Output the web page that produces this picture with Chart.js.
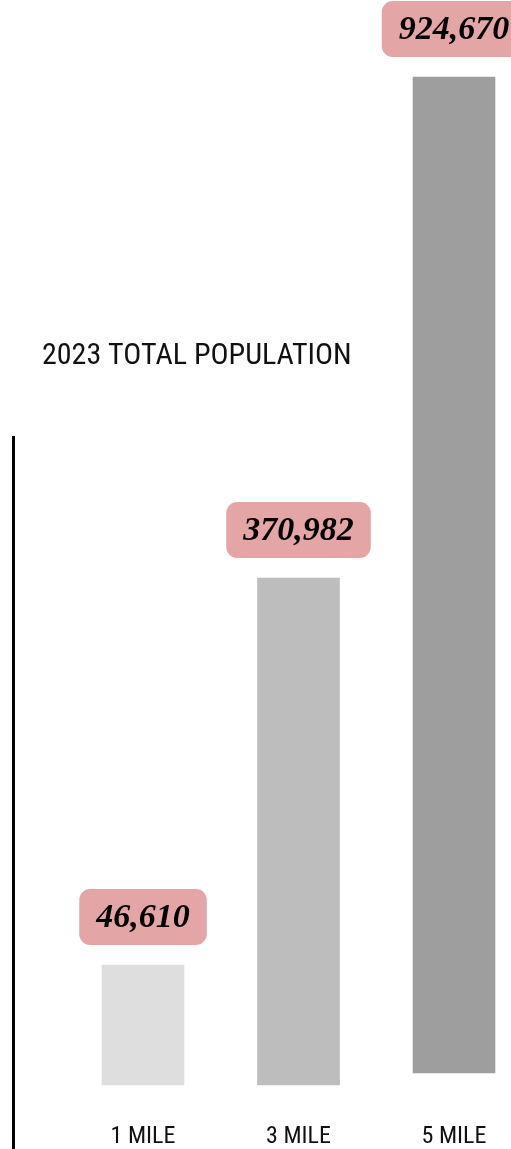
<!DOCTYPE html>
<html lang="en">
<head>
  <meta charset="UTF-8" />
  <title>2023 Total Population</title>
  <script src="https://cdn.jsdelivr.net/npm/chart.js"></script>
  <style>
    * {
      box-sizing: border-box;
    }

    html, body {
      margin: 0;
      padding: 0;
      background: #ffffff;
      overflow: hidden;
    }

    canvas {
      display: block;
    }
  </style>
</head>
<body>

  <canvas id="popChart" width="511" height="1149"></canvas>

  <script>
    // Radius rings
    const categories = ['1 MILE', '3 MILE', '5 MILE'];

    // Population shown in the pink tags
    const population = [46610, 370982, 924670];

    // Bar extents as drawn in the picture (display units, not to scale with population)
    const barBase = [0, 0, 12];
    const barTop = [120, 507, 1008];

    const barColors = ['#dedede', '#bdbdbd', '#9e9e9e'];

    const chartTitle = '2023 TOTAL POPULATION';

    const narrowFont = '"Liberation Sans Narrow", "Roboto Condensed", "Arial Narrow", sans-serif';

    // rounded tag + title + left rule
    const decorPlugin = {
      id: 'decor',
      afterDatasetsDraw(chart) {
        const ctx = chart.ctx;
        const meta = chart.getDatasetMeta(0);

        ctx.save();
        ctx.font = 'italic bold 34px "Liberation Serif", "Times New Roman", serif';
        ctx.textAlign = 'center';
        ctx.textBaseline = 'middle';

        meta.data.forEach((bar, i) => {
          const label = population[i].toLocaleString('en-US');
          const w = ctx.measureText(label).width + 34;
          const h = 56;
          const x = bar.x - w / 2;
          const y = bar.y - 20 - h;

          ctx.fillStyle = '#e4a5a7';
          ctx.beginPath();
          ctx.roundRect(x, y, w, h, 11);
          ctx.fill();

          ctx.fillStyle = '#000000';
          ctx.fillText(label, bar.x, y + h / 2 + 1);
        });

        // title
        ctx.font = '30px ' + narrowFont;
        ctx.textAlign = 'left';
        ctx.textBaseline = 'alphabetic';
        ctx.fillStyle = '#111111';
        ctx.fillText(chartTitle, 42, 364);

        // left vertical rule
        ctx.strokeStyle = '#000000';
        ctx.lineWidth = 3;
        ctx.beginPath();
        ctx.moveTo(13.5, 436);
        ctx.lineTo(13.5, chart.height);
        ctx.stroke();

        ctx.restore();
      }
    };

    const ctx = document.getElementById('popChart').getContext('2d');

    new Chart(ctx, {
      type: 'bar',
      data: {
        labels: categories,
        datasets: [{
          data: barBase.map((b, i) => [b, barTop[i]]),
          backgroundColor: barColors,
          borderWidth: 0,
          borderSkipped: false,
          barThickness: 82,
          clip: false
        }]
      },
      options: {
        responsive: false,
        maintainAspectRatio: false,
        devicePixelRatio: 1,
        animation: false,
        layout: {
          padding: { left: 143, right: 57, top: 0, bottom: 0 }
        },
        plugins: {
          legend: { display: false },
          tooltip: { enabled: false },
          title: { display: false }
        },
        scales: {
          x: {
            offset: false,
            grid: { display: false, drawTicks: false },
            border: { display: false },
            ticks: {
              color: '#111111',
              padding: 38,
              maxRotation: 0,
              autoSkip: false,
              font: { family: narrowFont, size: 24 }
            },
            afterFit(scale) {
              scale.height = 64;
              scale.paddingLeft = 0;
              scale.paddingRight = 0;
            }
          },
          y: {
            display: false,
            min: 0,
            max: 1085
          }
        }
      },
      plugins: [decorPlugin]
    });
  </script>

</body>
</html>
